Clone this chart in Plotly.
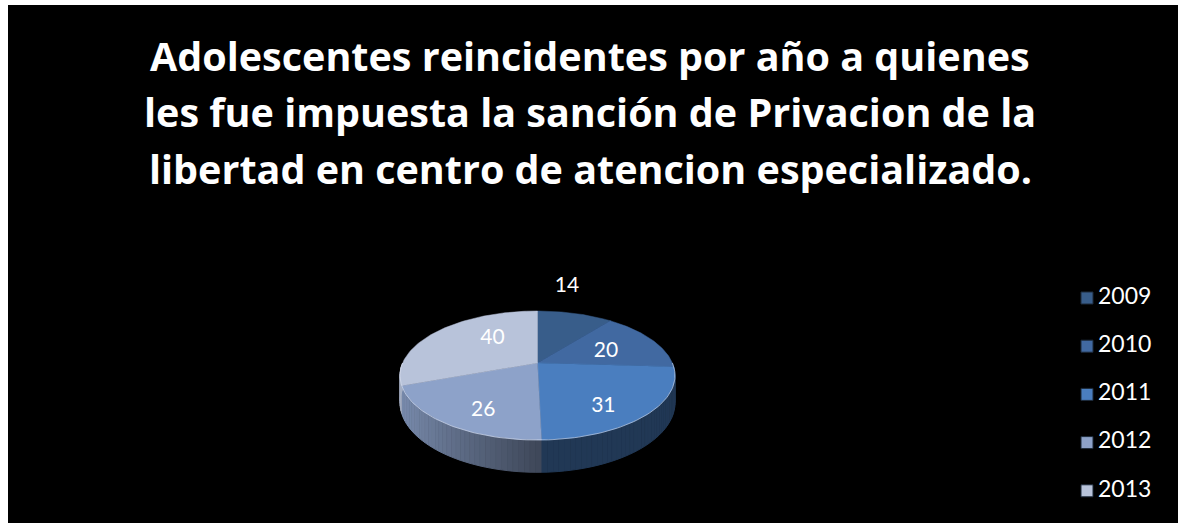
import numpy as np
import plotly.graph_objects as go

# data
YEARS = ["2009", "2010", "2011", "2012", "2013"]
VALUES = [14, 20, 31, 26, 40]
TITLE_LINES = [
    "Adolescentes reincidentes por año a quienes",
    "les fue impuesta la sanción de Privacion de la",
    "libertad en centro de atencion especializado.",
]

# style
TOP_COLORS = ["#385d8a", "#4169a1", "#4a7ebf", "#8da2c9", "#b8c3da"]
FONT = "Lato, 'Open Sans', sans-serif"
TITLE_FONT = "'Open Sans', Lato, sans-serif"
W, H = 1178, 523

# fake 3d pie geometry (pixel space)
CX, CY = 537.5, 363.0
RX, RY = 134.9, 62.1
K = 0.194          # perspective strength
DEPTH = 26.0
LABEL_R = [1.65, 0.56, 0.75, 0.75, 0.55]
LABEL_SHIFT = [-9.2, 4, 9, -6.5, 14]   # degrees


def project(theta, r=1.0):
    t = np.radians(theta)
    u, v = r * np.sin(t), r * np.cos(t)
    s = 1.0 / (1.0 + K * v)
    return CX + RX * u * s, CY - RY * v * s, s


def shade(hex_color, f):
    h = hex_color.lstrip("#")
    rgb = [int(h[i:i + 2], 16) for i in (0, 2, 4)]
    return "rgb({},{},{})".format(*[int(min(255, c * f)) for c in rgb])


total = sum(VALUES)
bounds = np.concatenate([[0], np.cumsum(VALUES) / total * 360.0])

fig = go.Figure()

# side walls (front half only), drawn in thin strips for a gradient
for i in range(len(VALUES)):
    a0, a1 = max(bounds[i], 90.0), min(bounds[i + 1], 270.0)
    if a1 <= a0:
        continue
    n = max(1, int(np.ceil((a1 - a0) / 2.0)))
    edges = np.linspace(a0, a1, n + 1)
    for e0, e1 in zip(edges[:-1], edges[1:]):
        th = np.linspace(e0, e1, 4)
        xt, yt, st = project(th)
        xb, yb = xt, yt + DEPTH * st
        mid = np.radians((e0 + e1) / 2)
        f = 0.45 + 0.45 * max(0.0, -np.sin(mid))
        col = shade(TOP_COLORS[i], f)
        fig.add_trace(go.Scatter(
            x=np.concatenate([xt, xb[::-1]]), y=np.concatenate([yt, yb[::-1]]),
            mode="lines", fill="toself", fillcolor=col,
            line=dict(color=col, width=1), hoverinfo="skip", showlegend=False,
        ))

# top faces
for i, (yr, val) in enumerate(zip(YEARS, VALUES)):
    th = np.linspace(bounds[i], bounds[i + 1], 80)
    xs, ys, _ = project(th)
    fig.add_trace(go.Scatter(
        x=np.concatenate([[CX], xs, [CX]]), y=np.concatenate([[CY], ys, [CY]]),
        mode="lines", fill="toself", fillcolor=TOP_COLORS[i],
        line=dict(color=TOP_COLORS[i], width=0.5),
        name=yr, hovertemplate=f"{yr}: {val}<extra></extra>", showlegend=False,
    ))

# light rim on front edge of top
th = np.linspace(90, 270, 120)
xs, ys, _ = project(th)
fig.add_trace(go.Scatter(x=xs, y=ys, mode="lines",
                         line=dict(color="rgba(225,232,245,0.55)", width=1),
                         hoverinfo="skip", showlegend=False))

# data labels
mids = (bounds[:-1] + bounds[1:]) / 2 + np.array(LABEL_SHIFT)
lx, ly = [], []
for m, r in zip(mids, LABEL_R):
    x, y, _ = project(m, r)
    lx.append(x)
    ly.append(y)
fig.add_trace(go.Scatter(
    x=lx, y=ly, mode="text", text=[str(v) for v in VALUES],
    textfont=dict(family=FONT, size=21, color="#ffffff"),
    hoverinfo="skip", showlegend=False,
))

# legend (manual, to match spacing)
LEG_X, LEG_Y0, LEG_DY = 1087, 298, 48.2
leg_y = [LEG_Y0 + LEG_DY * i for i in range(len(YEARS))]
fig.add_trace(go.Scatter(
    x=[LEG_X] * len(YEARS), y=leg_y, mode="markers",
    marker=dict(symbol="square", size=12, color=TOP_COLORS,
                line=dict(color="#1d2a3a", width=1)),
    hoverinfo="skip", showlegend=False,
))
fig.add_trace(go.Scatter(
    x=[LEG_X + 11] * len(YEARS), y=leg_y, mode="text", text=YEARS,
    textposition="middle right",
    textfont=dict(family=FONT, size=23, color="#ffffff"),
    hoverinfo="skip", showlegend=False,
))

# title, one annotation per line
for j, line in enumerate(TITLE_LINES):
    fig.add_annotation(
        x=590, y=74 + 56.5 * j, xref="x", yref="y",
        text=f"<b>{line}</b>", showarrow=False,
        xanchor="center", yanchor="bottom", yshift=-11,
        font=dict(family=TITLE_FONT, size=39.5, color="#ffffff"),
    )

fig.update_layout(
    width=W, height=H,
    margin=dict(l=8, r=0, t=5, b=0),
    paper_bgcolor="#ffffff", plot_bgcolor="#000000",
    xaxis=dict(range=[8, W], visible=False, fixedrange=True),
    yaxis=dict(range=[H, 5], visible=False, fixedrange=True),
    showlegend=False,
)

fig.write_html("out.html", config={"displayModeBar": False},
               post_script="document.body.style.margin='0';")
